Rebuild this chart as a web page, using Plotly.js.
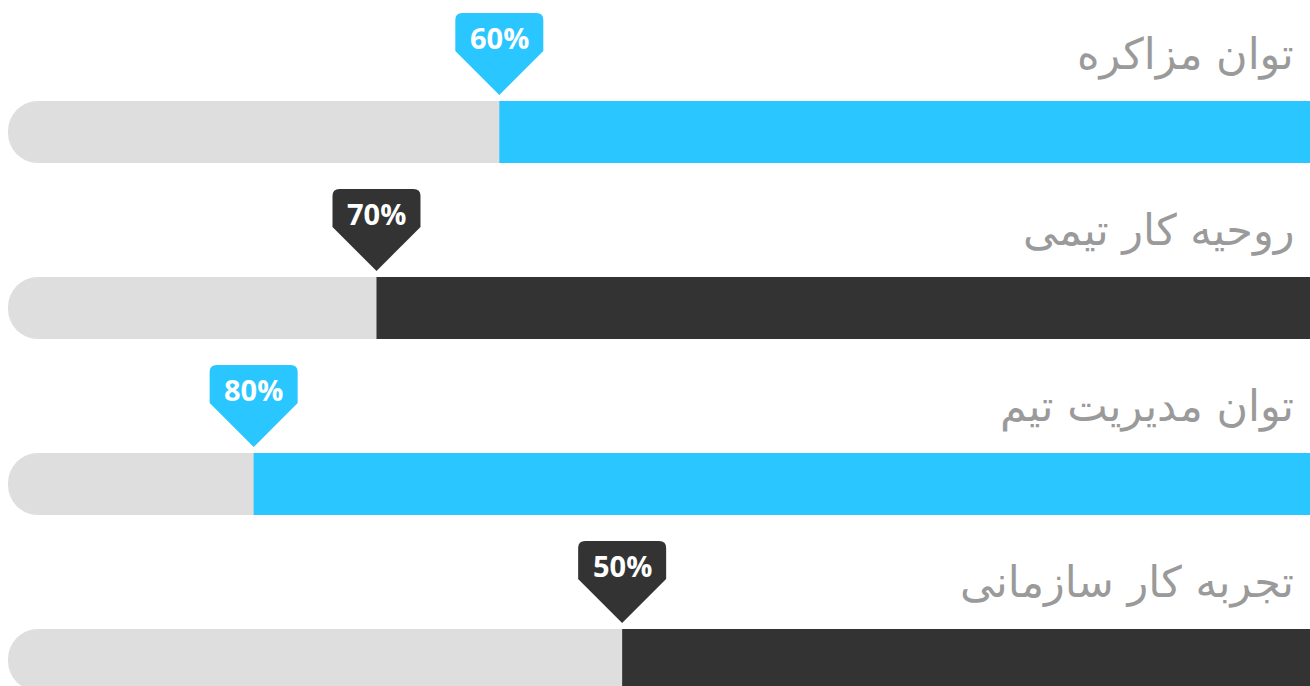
<!DOCTYPE html>
<html>
<head>
<meta charset="utf-8">
<script src="https://cdn.plot.ly/plotly-3.0.1.min.js"></script>
<style>html,body{margin:0;padding:0;background:#fff;overflow:hidden}#chart{width:1310px;height:686px}</style>
</head>
<body>
<div id="chart"></div>
<script>
// Data
var categories = ["توان مزاکره", "روحیه کار تیمی", "توان مدیریت تیم", "تجربه کار سازمانی"];
var values = [60, 70, 80, 50];
var valueLabels = ["60%", "70%", "80%", "50%"];
var fullValue = 100;

// Styles
var barColors = ["#29c6ff", "#333333", "#29c6ff", "#333333"];
var trackColor = "#dedede";
var axisStart = -6;   // right edge of the reversed axis

var trackTrace = {
  type: "bar", orientation: "h",
  y: categories,
  x: categories.map(function(){ return fullValue - axisStart; }),
  base: categories.map(function(){ return axisStart; }),
  width: 0.352,
  marker: {color: trackColor, cornerradius: 30},
  hoverinfo: "skip", showlegend: false
};
var fillTrace = {
  type: "bar", orientation: "h",
  y: categories,
  x: values.map(function(v){ return v - axisStart; }),
  base: values.map(function(){ return axisStart; }),
  width: 0.352,
  marker: {color: barColors},
  hoverinfo: "skip", showlegend: false
};

var shapes = values.map(function(v, i){
  return {
    type: "path", xref: "x", yref: "y",
    xsizemode: "pixel", ysizemode: "pixel",
    xanchor: v, yanchor: categories[i],
    path: "M-44,81 L-44,112 Q-44,119 -37,119 L37,119 Q44,119 44,112 L44,81 L0,37 Z",
    fillcolor: barColors[i], line: {width: 0}, layer: "above"
  };
});

var annotations = [];
values.forEach(function(v, i){
  annotations.push({
    x: v, y: categories[i], xref: "x", yref: "y",
    text: "<b>" + valueLabels[i] + "</b>", showarrow: false,
    yshift: 94, xanchor: "center", yanchor: "middle",
    font: {family: "Open Sans, DejaVu Sans, sans-serif", size: 29, color: "#ffffff"}
  });
  annotations.push({
    y: categories[i], xref: "paper", yref: "y",
    text: categories[i], showarrow: false,
    xanchor: "right", yanchor: "middle", x: 0.9895,
    yshift: 77,
    font: {family: "DejaVu Sans, sans-serif", size: 43, color: "#9a9a9a"}
  });
});

var layout = {
  width: 1310, height: 686,
  margin: {l: 8, r: 0, t: 0, b: 0},
  paper_bgcolor: "#ffffff", plot_bgcolor: "#ffffff",
  barmode: "overlay",
  xaxis: {range: [fullValue, axisStart], visible: false, fixedrange: true},
  yaxis: {type: "category", range: [3.148, -0.75], visible: false, fixedrange: true},
  shapes: shapes,
  annotations: annotations,
  showlegend: false
};

Plotly.newPlot("chart", [trackTrace, fillTrace], layout, {staticPlot: true, displayModeBar: false});
</script>
</body>
</html>
